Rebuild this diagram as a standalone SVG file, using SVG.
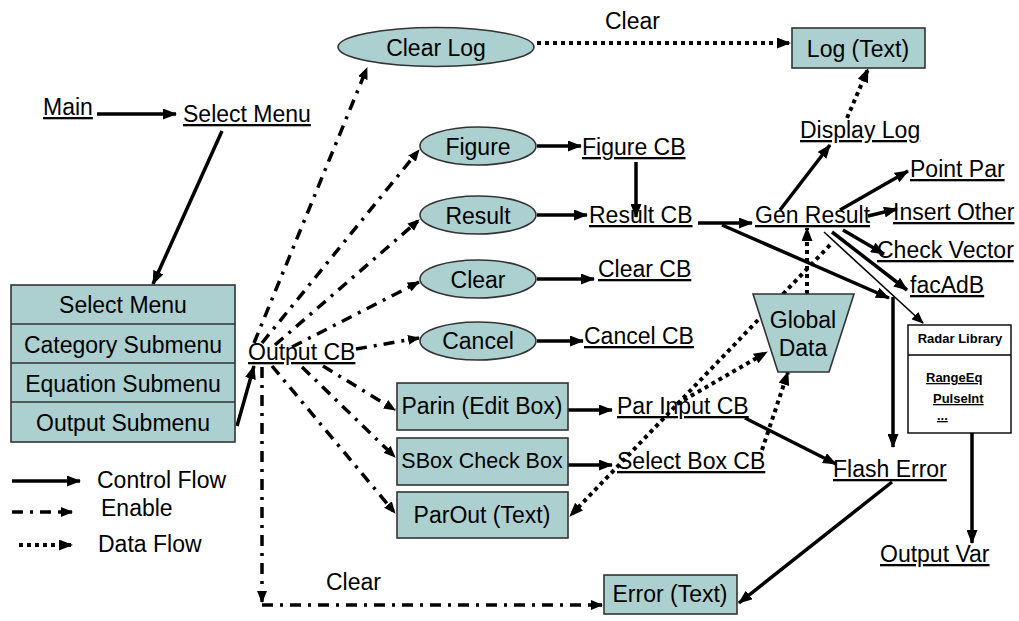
<svg xmlns="http://www.w3.org/2000/svg" width="1019" height="621" viewBox="0 0 1019 621">
<defs>
<marker id="ah" viewBox="0 0 14 11" refX="13" refY="5.5" markerWidth="14" markerHeight="11" markerUnits="userSpaceOnUse" orient="auto"><path d="M0,0 L14,5.5 L0,11 z" fill="#000"/></marker>
<marker id="ahs" viewBox="0 0 12 10" refX="11" refY="5" markerWidth="12" markerHeight="10" markerUnits="userSpaceOnUse" orient="auto"><path d="M0,0 L12,5 L0,10 z" fill="#000"/></marker>
<style>
text{font-family:"Liberation Sans",Arial,sans-serif;font-size:23px;fill:#000}
.u{text-decoration:underline}
.m{text-anchor:middle}
.nf{fill:#acd0d0;stroke:#333;stroke-width:1.6}
.c{fill:none;stroke:#000;stroke-width:3.5;marker-end:url(#ah)}
.t{fill:none;stroke:#000;stroke-width:1.6;marker-end:url(#ahs)}
.e{fill:none;stroke:#000;stroke-width:3.5;stroke-dasharray:11 7 3 7;marker-end:url(#ahs)}
.d{fill:none;stroke:#000;stroke-width:4;stroke-dasharray:4 4;marker-end:url(#ah)}
.sm{font-size:13px;font-weight:bold}
</style>
</defs>
<rect width="1019" height="621" fill="#fff"/>

<g id="connectors">
<line class="c" x1="97" y1="114" x2="176" y2="114"/>
<line class="c" x1="222" y1="131" x2="153" y2="284"/>
<line class="c" stroke-width="3" x1="237" y1="426" x2="254" y2="366"/>
<line class="c" x1="537" y1="146" x2="581" y2="146"/>
<line class="c" x1="537" y1="215" x2="587" y2="215"/>
<line class="c" x1="537" y1="279" x2="594" y2="279"/>
<line class="c" x1="537" y1="341" x2="583" y2="341"/>
<line class="c" x1="568" y1="410" x2="612" y2="410"/>
<line class="c" x1="568" y1="465" x2="612" y2="465"/>
<line class="c" x1="636" y1="162" x2="636" y2="217"/>
<line class="c" x1="698" y1="223" x2="752" y2="223"/>
<line class="c" x1="745" y1="418" x2="836" y2="464"/>
<line class="c" x1="892" y1="482" x2="739" y2="603"/>
<line class="c" x1="780" y1="210" x2="830" y2="145"/>
<line class="c" x1="840" y1="210" x2="908" y2="171"/>
<line class="c" stroke-width="3" x1="868" y1="216" x2="897" y2="209"/>
<line class="c" stroke-width="3" x1="843" y1="230" x2="884" y2="254"/>
<line class="c" stroke-width="2.5" x1="832" y1="232" x2="907" y2="290"/>
<line class="t" x1="824" y1="232" x2="923" y2="323"/>
<line class="c" stroke-width="3" x1="722" y1="225" x2="889" y2="298"/>
<line class="c" stroke-width="4" x1="893" y1="297" x2="893" y2="447"/>
<line class="c" x1="972" y1="433" x2="972" y2="543"/>

<line class="d" x1="537" y1="43" x2="790" y2="43"/>
<line class="d" x1="847" y1="118" x2="868" y2="69"/>
<line class="d" x1="807" y1="294" x2="807" y2="228"/>
<line class="d" x1="830" y1="245" x2="570" y2="516"/>
<line class="d" x1="677" y1="404" x2="767" y2="352"/>
<line class="d" x1="762" y1="450" x2="788" y2="372"/>

<line class="e" x1="254" y1="343" x2="367" y2="68"/>
<line class="e" x1="262" y1="343" x2="419" y2="150"/>
<line class="e" x1="275" y1="345" x2="419" y2="220"/>
<line class="e" x1="292" y1="347" x2="419" y2="282"/>
<line class="e" x1="356" y1="349" x2="419" y2="338"/>
<line class="e" x1="323" y1="366" x2="395" y2="410"/>
<line class="e" x1="302" y1="367" x2="395" y2="457"/>
<line class="e" x1="272" y1="366" x2="395" y2="513"/>
<line class="e" x1="262" y1="367" x2="262" y2="602"/>
<line class="e" x1="262" y1="605" x2="602" y2="605"/>
</g>

<g id="legend">
<line class="c" stroke-width="3" x1="12" y1="481" x2="80" y2="481"/>
<text x="97" y="488">Control Flow</text>
<line class="e" stroke-dasharray="13 9 3 9" x1="12" y1="512" x2="72" y2="512"/>
<text x="101" y="516">Enable</text>
<line class="d" stroke-width="3.5" stroke-dasharray="3.5 4" x1="19" y1="545" x2="72" y2="545"/>
<text x="98" y="552">Data Flow</text>
</g>

<g id="main"><text class="u" x="43" y="115">Main</text></g>
<g id="select-menu"><text class="u" x="183" y="122">Select Menu</text></g>

<g id="menu-box">
<rect class="nf" x="11" y="285" width="224" height="157"/>
<line x1="11" y1="324" x2="235" y2="324" stroke="#333" stroke-width="1.6"/>
<line x1="11" y1="363" x2="235" y2="363" stroke="#333" stroke-width="1.6"/>
<line x1="11" y1="402" x2="235" y2="402" stroke="#333" stroke-width="1.6"/>
<text class="m" x="123" y="313">Select Menu</text>
<text class="m" x="123" y="353">Category Submenu</text>
<text class="m" x="123" y="392">Equation Submenu</text>
<text class="m" x="123" y="431">Output Submenu</text>
</g>

<g id="output-cb"><text class="u" x="248" y="360">Output CB</text></g>

<g id="clear-log"><ellipse class="nf" cx="436" cy="47" rx="98" ry="19.5"/><text class="m" x="436" y="56">Clear Log</text></g>
<g id="clear-label-top"><text x="605" y="29">Clear</text></g>
<g id="log-text"><rect class="nf" x="792" y="28" width="133" height="40"/><text class="m" x="858" y="57">Log (Text)</text></g>
<g id="display-log"><text class="u" x="800" y="138">Display Log</text></g>

<g id="figure"><ellipse class="nf" cx="478" cy="146" rx="58" ry="19"/><text class="m" x="478" y="155">Figure</text></g>
<g id="figure-cb"><text class="u" x="582" y="155">Figure CB</text></g>
<g id="point-par"><text class="u" x="910" y="177">Point Par</text></g>

<g id="result"><ellipse class="nf" cx="478" cy="215" rx="58" ry="19"/><text class="m" x="478" y="224">Result</text></g>
<g id="result-cb"><text class="u" x="589" y="223">Result CB</text></g>
<g id="gen-result"><text class="u" x="755" y="223">Gen Result</text></g>
<g id="insert-other"><text class="u" x="893" y="220">Insert Other</text></g>
<g id="check-vector"><text class="u" x="877" y="258">Check Vector</text></g>
<g id="facadb"><text class="u" x="910" y="293">facAdB</text></g>

<g id="clear"><ellipse class="nf" cx="478" cy="279" rx="58" ry="19"/><text class="m" x="478" y="288">Clear</text></g>
<g id="clear-cb"><text class="u" x="598" y="277">Clear CB</text></g>

<g id="cancel"><ellipse class="nf" cx="478" cy="341" rx="58" ry="19"/><text class="m" x="478" y="349">Cancel</text></g>
<g id="cancel-cb"><text class="u" x="584" y="344">Cancel CB</text></g>

<g id="global-data"><polygon class="nf" points="753,294 854,294 829,372 778,372"/><text class="m" x="803" y="328">Global</text><text class="m" x="803" y="356">Data</text></g>

<g id="radar-library">
<rect x="908" y="325" width="103" height="108" fill="#fff" stroke="#000" stroke-width="1.4"/>
<line x1="908" y1="355" x2="1011" y2="355" stroke="#000" stroke-width="1.4"/>
<text class="sm m" x="960" y="343">Radar Library</text>
<text class="sm u" x="926" y="382">RangeEq</text>
<text class="sm u" x="933" y="403">PulseInt</text>
<text class="sm u" x="937" y="420">...</text>
</g>

<g id="parin"><rect class="nf" x="397" y="383" width="171" height="47"/><text class="m" x="482" y="414">Parin (Edit Box)</text></g>
<g id="par-input-cb"><text class="u" x="617" y="414">Par Input CB</text></g>

<g id="sbox"><rect class="nf" x="397" y="438" width="171" height="47"/><text class="m" x="482" y="468" style="font-size:21.5px">SBox Check Box</text></g>
<g id="select-box-cb"><text class="u" x="617" y="469">Select Box CB</text></g>
<g id="flash-error"><text class="u" x="833" y="477">Flash Error</text></g>

<g id="parout"><rect class="nf" x="397" y="492" width="171" height="46"/><text class="m" x="482" y="523">ParOut (Text)</text></g>
<g id="output-var"><text class="u" x="880" y="562">Output Var</text></g>

<g id="clear-label-bottom"><text x="326" y="590">Clear</text></g>
<g id="error-text"><rect class="nf" x="604" y="575" width="133" height="39"/><text class="m" x="670" y="602">Error (Text)</text></g>
</svg>
